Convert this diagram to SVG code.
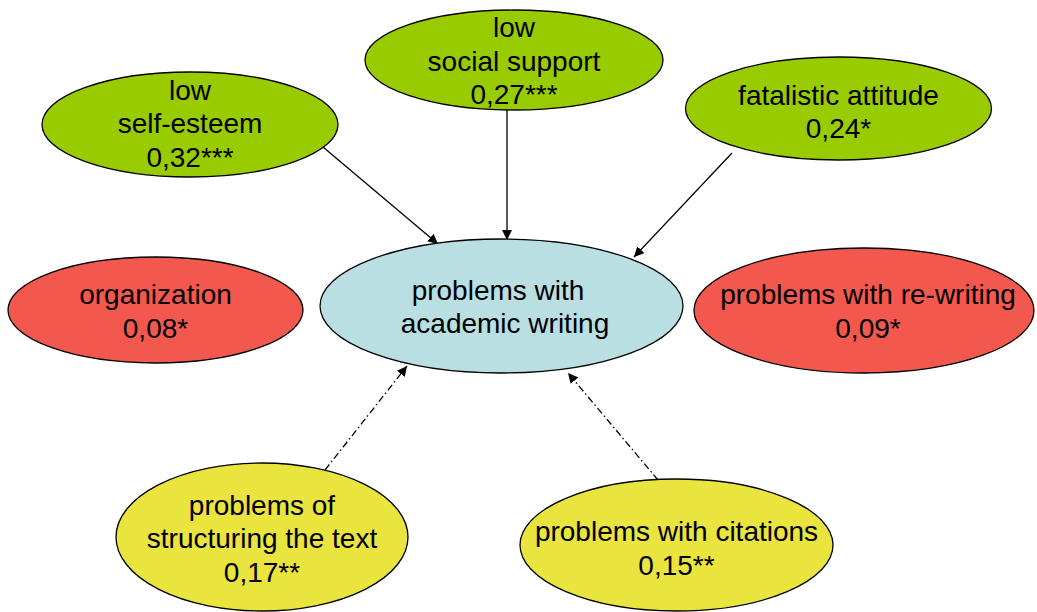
<svg xmlns="http://www.w3.org/2000/svg" width="1037" height="612" viewBox="0 0 1037 612">
<style>
  .n { stroke: #000; stroke-width: 1.3; }
  .g { fill: #99CC00; }
  .r { fill: #F2584E; }
  .b { fill: #B9DFE3; }
  .y { fill: #EAE43E; }
  text { font-family: "Liberation Sans", Arial, sans-serif; font-size: 28px; fill: #000; text-anchor: middle; }
  .c { stroke: #000; stroke-width: 1.3; fill: none; }
  .dd { stroke-dasharray: 7 3 1.5 3; }
</style>
<defs>
  <marker id="arr" viewBox="0 0 10 10" refX="10" refY="5" markerWidth="10" markerHeight="10" markerUnits="userSpaceOnUse" orient="auto">
    <path d="M0,0 L10,5 L0,10 z" fill="#000"/>
  </marker>
</defs>
<rect width="1037" height="612" fill="#fff"/>
<g id="connectors">
  <line class="c" x1="323" y1="147" x2="438" y2="244" marker-end="url(#arr)"/>
  <line class="c" x1="507" y1="110" x2="507" y2="240" marker-end="url(#arr)"/>
  <line class="c" x1="732" y1="153" x2="634" y2="257" marker-end="url(#arr)"/>
  <line class="c dd" x1="325" y1="470" x2="407" y2="366" marker-end="url(#arr)"/>
  <line class="c dd" x1="658" y1="480" x2="568" y2="373" marker-end="url(#arr)"/>
</g>
<g id="low-self-esteem">
  <ellipse class="n g" cx="190" cy="124.5" rx="148" ry="52.5"/>
  <text x="190" y="100">low</text>
  <text x="190" y="133">self-esteem</text>
  <text x="190" y="167">0,32***</text>
</g>
<g id="low-social-support">
  <ellipse class="n g" cx="514" cy="60" rx="149" ry="50"/>
  <text x="514" y="37">low</text>
  <text x="514" y="71">social support</text>
  <text x="514" y="104">0,27***</text>
</g>
<g id="fatalistic-attitude">
  <ellipse class="n g" cx="838.5" cy="108.5" rx="153" ry="51.5"/>
  <text x="838.5" y="105">fatalistic attitude</text>
  <text x="838.5" y="138">0,24*</text>
</g>
<g id="organization">
  <ellipse class="n r" cx="155.5" cy="310" rx="147.5" ry="53"/>
  <text x="155.5" y="304">organization</text>
  <text x="155.5" y="338">0,08*</text>
</g>
<g id="academic-writing">
  <ellipse class="n b" cx="501.5" cy="306" rx="181.5" ry="67"/>
  <text x="498" y="300">problems with</text>
  <text x="505" y="333">academic writing</text>
</g>
<g id="re-writing">
  <ellipse class="n r" cx="864" cy="310.5" rx="170" ry="62.5"/>
  <text x="868" y="304">problems with re-writing</text>
  <text x="868" y="338">0,09*</text>
</g>
<g id="structuring">
  <ellipse class="n y" cx="262" cy="537" rx="146" ry="74"/>
  <text x="262" y="515">problems of</text>
  <text x="262" y="548">structuring the text</text>
  <text x="262" y="582">0,17**</text>
</g>
<g id="citations">
  <ellipse class="n y" cx="676.5" cy="545" rx="156.5" ry="66"/>
  <text x="676.5" y="541">problems with citations</text>
  <text x="676.5" y="575">0,15**</text>
</g>
</svg>
